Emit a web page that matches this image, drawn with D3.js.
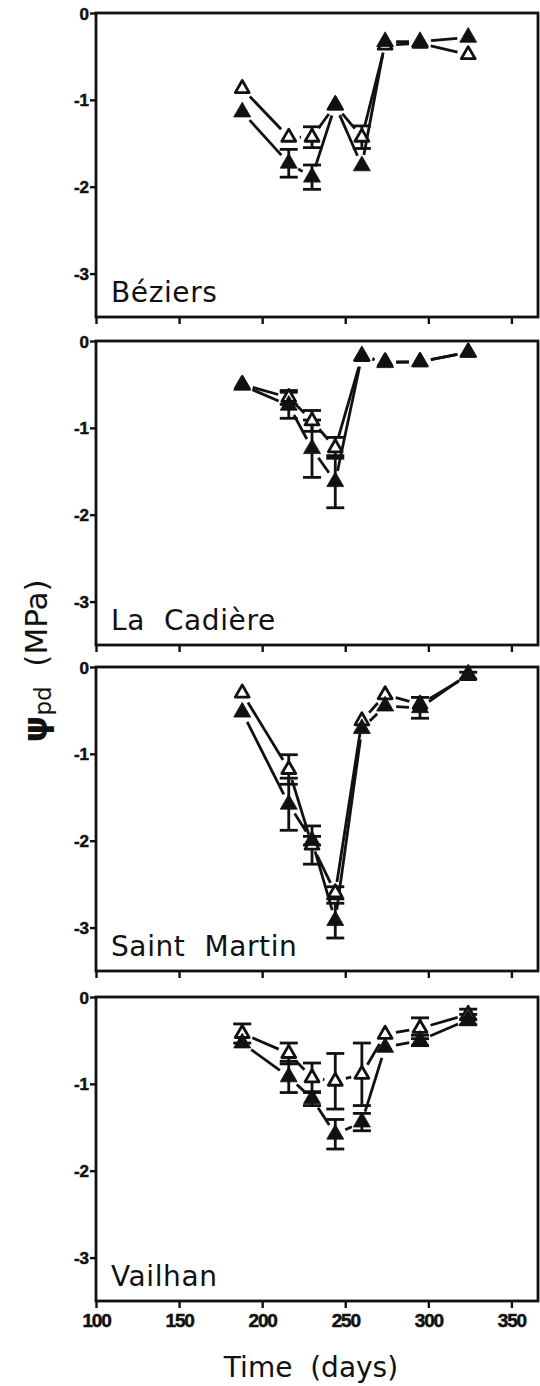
<!DOCTYPE html>
<html><head><meta charset="utf-8">
<script src="https://cdn.jsdelivr.net/npm/d3@7"></script>
<style>body{margin:0;background:#fff}</style>
</head><body>
<script>
// ---- data ----
const days = [188, 216, 230, 244, 260, 274, 295, 324];
const sites = ["Béziers", "La Cadière", "Saint Martin", "Vailhan"];
const xTicks = [100, 150, 200, 250, 300, 350];
const yTicks = [0, -1, -2, -3];

const openBeziers      = [-0.87, -1.43, -1.43, -1.06, -1.43, -0.37, -0.35, -0.48];
const openErrBeziers   = [0, 0, 0.12, 0, 0.13, 0, 0, 0];
const filledBeziers    = [-1.14, -1.73, -1.89, -1.06, -1.76, -0.33, -0.33, -0.28];
const filledErrBeziers = [0, 0.16, 0.14, 0, 0, 0, 0, 0];

const openCadiere      = [-0.50, -0.65, -0.92, -1.23, -0.18, -0.24, -0.24, -0.13];
const openErrCadiere   = [0, 0.08, 0.12, 0.12, 0, 0, 0, 0];
const filledCadiere    = [-0.51, -0.74, -1.24, -1.62, -0.17, -0.25, -0.24, -0.13];
const filledErrCadiere = [0, 0.15, 0.33, 0.30, 0, 0, 0, 0];

const openMartin       = [-0.30, -1.18, -2.05, -2.60, -0.62, -0.32, -0.43, -0.10];
const openErrMartin    = [0, 0.17, 0.22, 0.07, 0, 0, 0, 0.04];
const filledMartin     = [-0.52, -1.58, -2.00, -2.92, -0.71, -0.45, -0.47, -0.08];
const filledErrMartin  = [0, 0.30, 0.05, 0.20, 0, 0, 0.12, 0];

const openVailhan      = [-0.42, -0.65, -0.93, -0.97, -0.89, -0.43, -0.36, -0.20];
const openErrVailhan   = [0.11, 0.12, 0.17, 0.32, 0.36, 0, 0.12, 0.06];
const filledVailhan    = [-0.53, -0.92, -1.17, -1.58, -1.44, -0.58, -0.50, -0.26];
const filledErrVailhan = [0, 0.18, 0.08, 0.17, 0.10, 0, 0.06, 0.06];

const siteSeries = [
  {open: openBeziers, openErr: openErrBeziers, filled: filledBeziers, filledErr: filledErrBeziers},
  {open: openCadiere, openErr: openErrCadiere, filled: filledCadiere, filledErr: filledErrCadiere},
  {open: openMartin,  openErr: openErrMartin,  filled: filledMartin,  filledErr: filledErrMartin},
  {open: openVailhan, openErr: openErrVailhan, filled: filledVailhan, filledErr: filledErrVailhan}
];

// ---- layout ----
const W = 540, H = 1386;
const left = 96, right = 538;
const panelTops = [13, 341, 667, 997];
const panelH = 304;
const ink = "#111";
const gap = 11;
const lw = 2.8;
const tickFont = "'Liberation Sans', Arial, sans-serif";
const textFont = "'DejaVu Sans', sans-serif";

const svg = d3.select("body").append("svg").attr("width", W).attr("height", H);
const x = d3.scaleLinear().domain([100, 366]).range([left, right]);

sites.forEach((site, i) => {
  const top = panelTops[i], bottom = top + panelH;
  const y = d3.scaleLinear().domain([-3.5, 0]).range([bottom, top]);
  const g = svg.append("g");

  const ya = g.append("g").attr("transform", `translate(${left},0)`)
    .call(d3.axisLeft(y).tickValues(yTicks).tickSize(6).tickSizeOuter(0).tickPadding(1).tickFormat(d => String(d)));
  const xa = g.append("g").attr("transform", `translate(0,${bottom})`)
    .call(d3.axisBottom(x).tickValues(xTicks).tickSize(7).tickSizeOuter(0).tickPadding(6)
      .tickFormat(i === 3 ? (d => String(d)) : (() => "")));
  [ya, xa].forEach(a => {
    a.select(".domain").remove();
    a.selectAll(".tick line").attr("stroke", ink).attr("stroke-width", 2.4);
    a.selectAll(".tick text").attr("fill", ink).attr("font-family", tickFont)
      .attr("font-weight", "bold").attr("stroke", ink).attr("stroke-width", 0.5);
  });
  ya.selectAll(".tick text").attr("font-size", 17).attr("dy", "0.36em");
  xa.selectAll(".tick text").attr("font-size", 19).attr("letter-spacing", -1.2);

  g.append("rect").attr("x", left).attr("y", top).attr("width", right - left).attr("height", panelH)
    .attr("fill", "none").attr("stroke", ink).attr("stroke-width", lw);

  g.append("text").attr("x", left + 15).attr("y", bottom - 15)
    .attr("font-family", textFont).attr("font-size", 28).attr("fill", ink)
    .attr("letter-spacing", 0.6)
    .style("white-space", "pre")
    .text(site.replace(" ", "\u00a0 "));

  const s = siteSeries[i];
  const series = [
    {vals: s.open, errs: s.openErr, filled: false},
    {vals: s.filled, errs: s.filledErr, filled: true}
  ];

  series.forEach(se => {
    const pts = days.map((d, k) => ({px: x(d), py: y(se.vals[k]), v: se.vals[k], e: se.errs[k]}));
    // connecting segments with gaps around markers
    for (let k = 0; k < pts.length - 1; k++) {
      const a = pts[k], b = pts[k + 1];
      const dx = b.px - a.px, dy = b.py - a.py;
      const len = Math.hypot(dx, dy);
      if (len <= 2 * gap + 1) continue;
      const ux = dx / len, uy = dy / len;
      g.append("line")
        .attr("x1", a.px + ux * gap).attr("y1", a.py + uy * gap)
        .attr("x2", b.px - ux * gap).attr("y2", b.py - uy * gap)
        .attr("stroke", ink).attr("stroke-width", lw);
    }
    // error bars
    pts.filter(p => p.e > 0).forEach(p => {
      const y1 = y(p.v + p.e), y2 = y(p.v - p.e);
      g.append("line").attr("x1", p.px).attr("x2", p.px).attr("y1", y1).attr("y2", y2)
        .attr("stroke", ink).attr("stroke-width", lw);
      [y1, y2].forEach(yy => g.append("line").attr("x1", p.px - 9).attr("x2", p.px + 9)
        .attr("y1", yy).attr("y2", yy).attr("stroke", ink).attr("stroke-width", lw));
    });
  });

  // markers: open first, filled on top
  series.forEach(se => {
    const sym = d3.symbol().type(d3.symbolTriangle).size(se.filled ? 125 : 84);
    g.selectAll(null).data(days.map((d, k) => [x(d), y(se.vals[k])])).join("path")
      .attr("transform", p => `translate(${p[0]},${p[1]})`)
      .attr("d", sym)
      .attr("fill", se.filled ? ink : "#fff")
      .attr("stroke", ink).attr("stroke-width", se.filled ? 0.8 : 2.8)
      .attr("stroke-linejoin", "round");
  });
});

// axis titles
svg.append("text").attr("x", 311).attr("y", 1377).attr("text-anchor", "middle")
  .attr("font-family", textFont).attr("font-size", 28).attr("fill", ink)
  .style("white-space", "pre").text("Time\u00a0 (days)");

const yt = svg.append("text").attr("transform", "translate(47,661) rotate(-90)")
  .attr("text-anchor", "middle").attr("font-family", textFont).attr("font-size", 31).attr("fill", ink)
  .style("white-space", "pre");
yt.append("tspan").attr("font-weight", "bold").attr("font-size", 34).text("ψ");
yt.append("tspan").attr("font-size", 23).attr("dy", 4).text("pd");
yt.append("tspan").attr("dy", -4).text("\u00a0 (MPa)");
</script>
</body></html>
